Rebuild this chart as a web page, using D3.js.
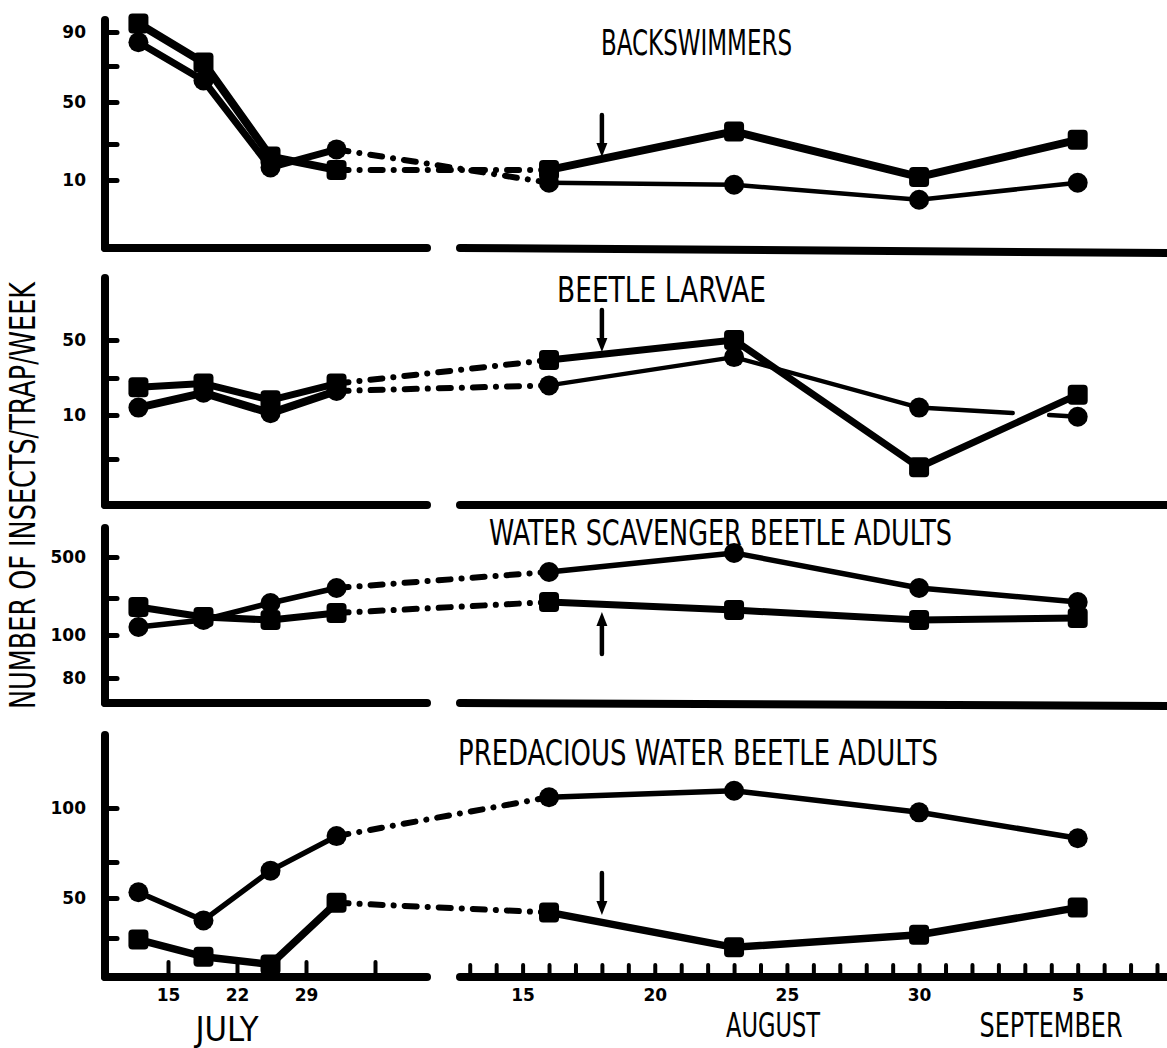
<!DOCTYPE html>
<html>
<head>
<meta charset="utf-8">
<title>Number of insects / trap / week</title>
<script src="https://cdn.jsdelivr.net/npm/d3@7"></script>
<style>
  body { margin: 0; background: #fff; }
  svg { display: block; }
  .letter { font-family: 'DejaVu Sans Condensed', 'DejaVu Sans', sans-serif; font-size: 36px; fill: #000; }
  .month { font-size: 33px; }
  .num { font-family: 'DejaVu Sans', sans-serif; font-weight: bold; font-size: 17px; fill: #000; }
</style>
</head>
<body>
<svg id="chart"></svg>
<script>
// sampling days counted from July 1 (=1); Aug 1 = 32, Sep 1 = 63
const julyDays = [12, 18.6, 25.4, 32.1];
const lateDays = [47, 54, 61, 67]; // Aug 16, Aug 23, Aug 30, Sep 5
const sampleDays = julyDays.concat(lateDays);

const panelTitles = ['BACKSWIMMERS', 'BEETLE LARVAE', 'WATER SCAVENGER BEETLE ADULTS', 'PREDACIOUS WATER BEETLE ADULTS'];

// values, 4 july samples then 4 aug/sep samples
const backswimmersSquares = [95, 72, 23, 15.6, 15.6, 36, 11.7, 32];
const backswimmersCircles = [84, 62, 17, 27, 9.6, 9.3, 7.1, 9.6];
const larvaeSquares = [25, 27, 18, 27, 39.5, 50, 4.1, 21];
const larvaeCircles = [14, 22, 11, 23, 26, 41, 14, 9.8];
const scavengerSquares = [251, 197, 181, 219, 278, 235, 181, 192];
const scavengerCircles = [143, 181, 273, 349, 427, 520, 349, 278];
const predaciousSquares = [24, 13, 8, 47, 41, 19, 27, 44];
const predaciousCircles = [54, 36, 69, 87, 105, 108, 98, 86];

// y ticks as they are on the figure (uneven spacing, so piecewise scales below)
const backswimmersTicks = [10, 30, 50, 70, 90];
const backswimmersTickLabels = ['10', '', '50', '', '90'];
const larvaeTicks = [5, 10, 30, 50];
const larvaeTickLabels = ['', '10', '', '50'];
const scavengerTicks = [80, 100, 300, 500];
const scavengerTickLabels = ['80', '100', '', '500'];
const predaciousTicks = [25, 50, 75, 100];
const predaciousTickLabels = ['', '50', '', '100'];

// x ticks
const julyTicks = [15, 22, 29, 36];
const julyTickLabels = ['15', '22', '29', ''];
const augTicks = d3.range(44, 71);
const augLabelDays = [46, 51, 56, 61, 67];
const augLabels = ['15', '20', '25', '30', '5'];
const monthLabels = ['JULY', 'AUGUST', 'SEPTEMBER'];
const yTitle = 'NUMBER OF INSECTS/TRAP/WEEK';

// the arrow (Aug 18) and the value its tip points at in each panel
const arrowDay = 49;
const arrowTips = [22.8, 43.7, 224, 39.4];
const arrowDirs = ['down', 'down', 'up', 'down'];

//----------------------------------------------------------------
const W = 1167, H = 1048;
const axisX = 105, leftEnd = 427, rightStart = 460;

const svg = d3.select('#chart').attr('width', W).attr('height', H);

// broken time axis: july on a tight scale, aug/sep stretched
const xLeft = d3.scaleLinear().domain([15, 29]).range([168, 306]);
const xRight = d3.scaleLinear().domain([46, 67]).range([522.6, 1077.7]);
const xOf = d => d < 40 ? xLeft(d) : xRight(d);

const panels = [
    {title: panelTitles[0], squares: backswimmersSquares, circles: backswimmersCircles,
     ticks: backswimmersTicks, labels: backswimmersTickLabels,
     domain: [0, 10, 30, 50, 70, 90], range: [248, 180, 144, 102, 66, 32],
     top: 20, bottom: 248, bottomR: 253, titleX: 601, titleW: 191, titleY: 55,
     sqW: 8, ciW: [7, 4.5]},
    {title: panelTitles[1], squares: larvaeSquares, circles: larvaeCircles,
     ticks: larvaeTicks, labels: larvaeTickLabels,
     domain: [0, 5, 10, 30, 50], range: [505, 459, 415, 378, 340],
     top: 278, bottom: 505, bottomR: 505, titleX: 557, titleW: 209, titleY: 302,
     sqW: 7, ciW: [8, 4.5], gap: [0.59, 0.82]},
    {title: panelTitles[2], squares: scavengerSquares, circles: scavengerCircles,
     ticks: scavengerTicks, labels: scavengerTickLabels,
     domain: [80, 100, 300, 500], range: [678, 635, 598, 557],
     top: 528, bottom: 703, bottomR: 706, titleX: 489, titleW: 463, titleY: 545,
     sqW: 7, ciW: [5.5, 5.5]},
    {title: panelTitles[3], squares: predaciousSquares, circles: predaciousCircles,
     ticks: predaciousTicks, labels: predaciousTickLabels,
     domain: [0, 25, 50, 75, 100], range: [977, 938, 898, 862, 808],
     top: 735, bottom: 977, bottomR: 977, titleX: 458, titleW: 480, titleY: 765,
     sqW: 7.5, ciW: [5.5, 5.5]}
];

const line = d3.line().x(d => d.x).y(d => d.y);

function thick(sel, w){
    return sel.attr('fill', 'none').attr('stroke', '#000').attr('stroke-width', w)
        .attr('stroke-linecap', 'round').attr('stroke-linejoin', 'round');
}

function drawSeries(g, pts, wLeft, wRight, gap){
    thick(g.append('path').attr('d', line(pts.slice(0, 4))), wLeft);
    // dash-dot bridge over the axis break
    thick(g.append('path').attr('d', line(pts.slice(3, 5))), 6)
        .attr('stroke-dasharray', '12,11,0.1,11');
    const right = thick(g.append('path').attr('d', line(pts.slice(4))), wRight);
    if (gap){
        // the scan shows a hole in the last segment of this line
        const a = pts[6], b = pts[7];
        const L = Math.hypot(b.x - a.x, b.y - a.y);
        thick(g.append('path').attr('d', line(pts.slice(4, 7))), wRight);
        right.attr('d', line([a, b]))
            .attr('stroke-dasharray', `${gap[0] * L},${(gap[1] - gap[0]) * L},${L}`);
    }
}

panels.forEach((p, i) => {
    const g = svg.append('g').attr('class', 'panel');
    const y = d3.scaleLinear().domain(p.domain).range(p.range);

    // frame
    thick(g.append('line').attr('x1', axisX).attr('x2', axisX).attr('y1', p.top).attr('y2', p.bottom), 8);
    thick(g.append('line').attr('x1', axisX).attr('x2', leftEnd).attr('y1', p.bottom).attr('y2', p.bottom), 8);
    thick(g.append('line').attr('x1', rightStart).attr('x2', W + 10).attr('y1', p.bottom).attr('y2', p.bottomR), 8);

    // y ticks: little bumps pointing into the plot
    const yAxis = d3.axisLeft(y)
        .tickValues(p.ticks)
        .tickSizeInner(-12)
        .tickSizeOuter(0)
        .tickPadding(19)
        .tickFormat((v, k) => p.labels[k]);
    const ya = g.append('g').attr('transform', `translate(${axisX},0)`).call(yAxis);
    ya.select('.domain').remove();
    ya.attr('font-family', null).attr('font-size', null);
    ya.selectAll('line').attr('stroke', '#000').attr('stroke-width', 5).attr('stroke-linecap', 'round');
    ya.selectAll('text').attr('class', 'num');

    // title
    g.append('text').attr('class', 'letter')
        .attr('x', p.titleX).attr('y', p.titleY)
        .attr('textLength', p.titleW).attr('lengthAdjust', 'spacingAndGlyphs')
        .text(p.title);

    const sq = p.squares.map((v, k) => ({x: xOf(sampleDays[k]), y: y(v)}));
    const ci = p.circles.map((v, k) => ({x: xOf(sampleDays[k]), y: y(v)}));

    drawSeries(g, ci, p.ciW[0], p.ciW[1], p.gap);
    drawSeries(g, sq, p.sqW, p.sqW, null);

    g.selectAll('circle.pt').data(ci).join('circle')
        .attr('class', 'pt').attr('cx', d => d.x).attr('cy', d => d.y).attr('r', 10).attr('fill', '#000');
    g.selectAll('rect.pt').data(sq).join('rect')
        .attr('class', 'pt').attr('x', d => d.x - 10).attr('y', d => d.y - 10)
        .attr('width', 20).attr('height', 20).attr('rx', 4).attr('fill', '#000');

    // arrow
    const tipX = xRight(arrowDay), tipY = y(arrowTips[i]);
    const s = arrowDirs[i] === 'down' ? -1 : 1;
    thick(g.append('line').attr('x1', tipX).attr('x2', tipX)
        .attr('y1', tipY + s * 42).attr('y2', tipY + s * 8), 4.5);
    g.append('path')
        .attr('d', `M${tipX},${tipY} L${tipX - 5.5},${tipY + s * 14} L${tipX + 5.5},${tipY + s * 14} Z`)
        .attr('fill', '#000');
});

// time axis along the bottom panel
const base = panels[3].bottom;
const julyAxis = d3.axisBottom(xLeft)
    .tickValues(julyTicks)
    .tickSizeInner(-15).tickSizeOuter(0).tickPadding(12)
    .tickFormat((v, k) => julyTickLabels[k]);
const augAxis = d3.axisBottom(xRight)
    .tickValues(augTicks)
    .tickSizeInner(-12).tickSizeOuter(0).tickPadding(12)
    .tickFormat(v => { const k = augLabelDays.indexOf(v); return k < 0 ? '' : augLabels[k]; });

[julyAxis, augAxis].forEach(ax => {
    const a = svg.append('g').attr('transform', `translate(0,${base})`).call(ax);
    a.select('.domain').remove();
    a.attr('font-family', null).attr('font-size', null);
    a.selectAll('line').attr('stroke', '#000').attr('stroke-width', 4).attr('stroke-linecap', 'round');
    a.selectAll('text').attr('class', 'num').attr('font-size', 15);
});

// month names
const monthX = [227, 773, 1051];
const monthW = [63, 94, 143];
const monthY = [1041, 1037, 1037];
svg.selectAll('text.month').data(monthLabels).join('text')
    .attr('class', 'letter month')
    .attr('x', (d, k) => monthX[k] - monthW[k] / 2)
    .attr('y', (d, k) => monthY[k])
    .attr('textLength', (d, k) => monthW[k]).attr('lengthAdjust', 'spacingAndGlyphs')
    .text(d => d);

// y title
svg.append('text').attr('class', 'letter')
    .attr('transform', 'translate(35,496) rotate(-90)')
    .attr('x', -213).attr('y', 0)
    .attr('textLength', 427).attr('lengthAdjust', 'spacingAndGlyphs')
    .text(yTitle);
</script>
</body>
</html>
